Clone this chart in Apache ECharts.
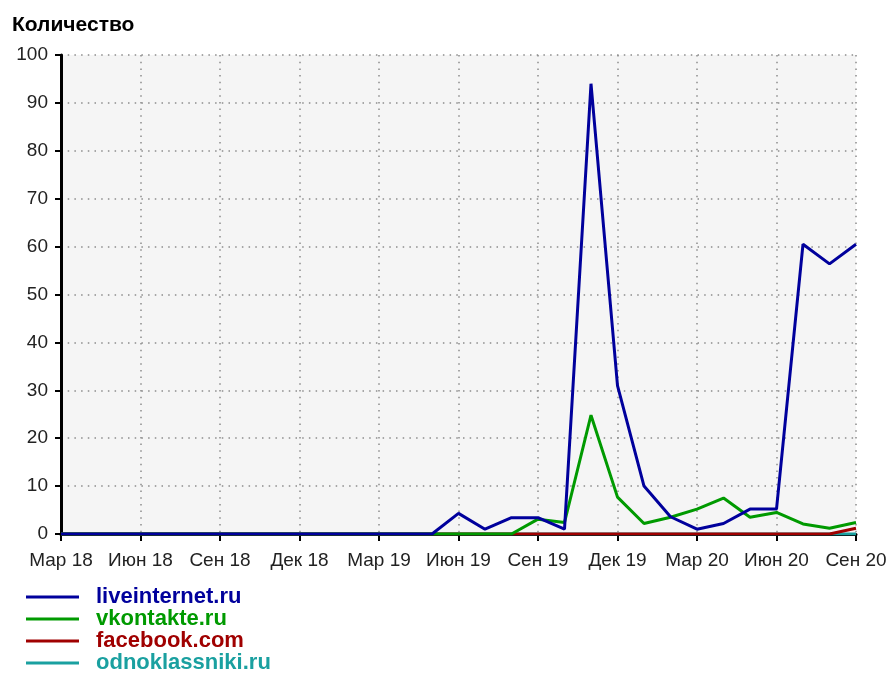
<!DOCTYPE html>
<html lang="ru">
<head>
    <meta charset="UTF-8">
    <title>Количество</title>
    <script src="https://cdn.jsdelivr.net/npm/echarts@6/dist/echarts.min.js"></script>
    <style>
        body { margin: 0; background: #fff; }
    </style>
</head>
<body>
<div id="main" style="width: 890px;height:673px;"></div>
<script>
    // months, Mar 2018 .. Sep 2020
    const months = [
        'Мар 18', 'Апр 18', 'Май 18', 'Июн 18', 'Июл 18', 'Авг 18', 'Сен 18', 'Окт 18', 'Ноя 18', 'Дек 18',
        'Янв 19', 'Фев 19', 'Мар 19', 'Апр 19', 'Май 19', 'Июн 19', 'Июл 19', 'Авг 19', 'Сен 19', 'Окт 19',
        'Ноя 19', 'Дек 19', 'Янв 20', 'Фев 20', 'Мар 20', 'Апр 20', 'Май 20', 'Июн 20', 'Июл 20', 'Авг 20',
        'Сен 20'
    ];
    const liveinternet = [0, 0, 0, 0, 0, 0, 0, 0, 0, 0, 0, 0, 0, 0, 0,
        4.3, 1, 3.4, 3.4, 1, 94, 31, 10, 3.6, 1, 2.2, 5.2, 5.2, 60.5, 56.4, 60.5];
    const vkontakte = [0, 0, 0, 0, 0, 0, 0, 0, 0, 0, 0, 0, 0, 0, 0, 0, 0, 0,
        3.1, 2.4, 24.8, 7.7, 2.2, 3.5, 5.2, 7.5, 3.5, 4.5, 2.1, 1.2, 2.4];
    const facebook = [0, 0, 0, 0, 0, 0, 0, 0, 0, 0, 0, 0, 0, 0, 0, 0, 0, 0, 0, 0,
        0, 0, 0, 0, 0, 0, 0, 0, 0, 0, 1.2];
    const odnoklassniki = [0, 0, 0, 0, 0, 0, 0, 0, 0, 0, 0, 0, 0, 0, 0, 0, 0, 0, 0, 0,
        0, 0, 0, 0, 0, 0, 0, 0, 0, 0, 0];

    const colors = {
        'liveinternet.ru': '#00009c',
        'vkontakte.ru': '#009a00',
        'facebook.com': '#a00000',
        'odnoklassniki.ru': '#1aa0a0'
    };
    const legendOrder = ['liveinternet.ru', 'vkontakte.ru', 'facebook.com', 'odnoklassniki.ru'];

    let chart = echarts.init(document.getElementById('main'));

    const dotted = {
        color: '#8c8c8c',
        width: 1.5,
        type: [1.5, 5.2]
    };

    function makeSeries(name, data)
    {
        return {
            name: name,
            type: 'line',
            data: data,
            symbol: 'none',
            color: colors[name],
            lineStyle: { width: 3, color: colors[name] }
        };
    }

    let option = {
        animation: false,
        title: {
            text: 'Количество',
            left: 7,
            top: 10,
            textStyle: {
                fontFamily: 'Liberation Sans, Arial',
                fontSize: 21,
                fontWeight: 'bold',
                color: '#000'
            }
        },
        legend: {
            orient: 'vertical',
            left: 26,
            top: 586,
            height: 200,
            padding: 0,
            itemGap: 0,
            itemWidth: 53,
            itemHeight: 3,
            icon: 'rect',
            data: legendOrder.map(function (n)
            {
                return { name: n, textStyle: { color: colors[n] } };
            }),
            textStyle: {
                fontFamily: 'Liberation Sans, Arial',
                fontSize: 22,
                fontWeight: 'bold',
                lineHeight: 21.7,
                padding: [0, 0, 0, 12]
            }
        },
        grid: {
            left: 61,
            right: 34,
            top: 55,
            bottom: 139,
            show: true,
            backgroundColor: '#f5f5f5',
            borderWidth: 0
        },
        xAxis: {
            type: 'category',
            data: months,
            boundaryGap: false,
            offset: 3,
            axisLine: { lineStyle: { color: '#000', width: 3 } },
            axisTick: { interval: 2, length: 7, lineStyle: { color: '#000', width: 2 } },
            axisLabel: {
                interval: 2,
                margin: 14,
                fontFamily: 'Liberation Sans, Arial',
                fontSize: 19,
                color: '#222'
            },
            splitLine: { show: true, interval: 2, lineStyle: dotted }
        },
        yAxis: {
            type: 'value',
            min: 0,
            max: 100,
            interval: 10,
            axisLine: { show: true, lineStyle: { color: '#000', width: 3 } },
            axisTick: { show: true, length: 6, lineStyle: { color: '#000', width: 2 } },
            axisLabel: {
                margin: 13,
                fontFamily: 'Liberation Sans, Arial',
                fontSize: 19,
                color: '#222'
            },
            splitLine: { show: true, lineStyle: dotted }
        },
        // drawn bottom to top: blue ends up on top like in the source
        series: [
            makeSeries('odnoklassniki.ru', odnoklassniki),
            makeSeries('facebook.com', facebook),
            makeSeries('vkontakte.ru', vkontakte),
            makeSeries('liveinternet.ru', liveinternet)
        ]
    };
    chart.setOption(option);
</script>
</body>
</html>
